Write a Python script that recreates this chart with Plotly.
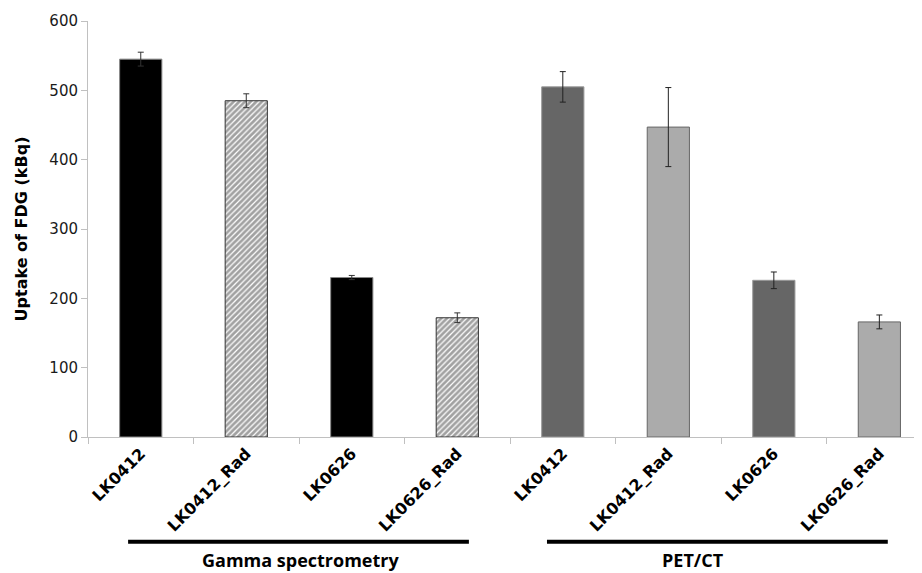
import plotly.graph_objects as go

# ---- data ----
categories = ["LK0412", "LK0412_Rad", "LK0626", "LK0626_Rad"]
groups = ["Gamma spectrometry", "PET/CT"]
gamma_values = [545, 485, 230, 172]
gamma_errors = [10, 10, 3, 7]
pet_values = [505, 447, 226, 166]
pet_errors = [22, 57, 12, 10]
y_ticks = [0, 100, 200, 300, 400, 500, 600]

gamma_keys = ["G_" + c for c in categories]
pet_keys = ["P_" + c for c in categories]
all_keys = gamma_keys + pet_keys
all_labels = categories + categories

fig = go.Figure()

fig.add_trace(go.Bar(
    x=gamma_keys, y=gamma_values,
    error_y=dict(type="data", array=gamma_errors, color="#333333", thickness=1, width=3),
    marker=dict(
        color=["#000000", "#ffffff", "#000000", "#ffffff"],
        line=dict(color=["#888888", "#333333", "#888888", "#333333"], width=1),
        pattern=dict(shape=["", "/", "", "/"], fgcolor="#1a1a1a", bgcolor="#ffffff",
                     size=4, solidity=0.7, fillmode="overlay"),
    ),
    showlegend=False,
))

fig.add_trace(go.Bar(
    x=pet_keys, y=pet_values,
    error_y=dict(type="data", array=pet_errors, color="#222222", thickness=1, width=3),
    marker=dict(
        color=["#666666", "#ababab", "#666666", "#ababab"],
        line=dict(color=["#999999", "#666666", "#999999", "#666666"], width=1),
    ),
    showlegend=False,
))

# group brackets
line_y = -0.252
text_y = -0.296
fig.add_shape(type="line", xref="x", yref="paper", x0=-0.12, x1=3.11, y0=line_y, y1=line_y,
              line=dict(color="#000000", width=4))
fig.add_shape(type="line", xref="x", yref="paper", x0=3.85, x1=7.08, y0=line_y, y1=line_y,
              line=dict(color="#000000", width=4))
fig.add_annotation(x=1.51, y=text_y, xref="x", yref="paper", yanchor="middle",
                   text="<b>" + groups[0] + "</b>",
                   showarrow=False, font=dict(family="Open Sans", size=18, color="#000000"))
fig.add_annotation(x=5.23, y=text_y, xref="x", yref="paper", yanchor="middle",
                   text="<b>" + groups[1] + "</b>",
                   showarrow=False, font=dict(family="Open Sans", size=18, color="#000000"))

fig.update_layout(
    width=922, height=573,
    margin=dict(l=80, r=0, t=13, b=144, autoexpand=False),
    plot_bgcolor="#ffffff", paper_bgcolor="#ffffff",
    barmode="relative", bargap=0.6,
    font=dict(family="DejaVu Sans", color="#000000"),
)

fig.update_xaxes(
    type="category", categoryorder="array", categoryarray=all_keys,
    tickmode="array", tickvals=all_keys, ticktext=all_labels,
    tickangle=-45, tickson="boundaries",
    tickfont=dict(family="DejaVu Sans", size=16, color="#000000", weight="bold"),
    showline=True, linecolor="#c0c0c0", linewidth=1,
    ticks="outside", ticklen=6, tickcolor="#c0c0c0",
    showgrid=False, range=[-0.5, 7.48], automargin=False,
)

fig.update_yaxes(
    range=[0, 600], tickmode="array", tickvals=y_ticks,
    tickfont=dict(family="DejaVu Sans", size=15, color="#1a1a1a"),
    showline=True, linecolor="#c0c0c0", linewidth=1,
    ticks="outside", ticklen=6, tickcolor="#c0c0c0",
    showgrid=False, zeroline=False, automargin=False,
    title=dict(text="<b>Uptake of FDG (kBq)</b>", font=dict(family="DejaVu Sans", size=16, color="#000000"),
               standoff=17),
)

fig.write_html("out.html")
